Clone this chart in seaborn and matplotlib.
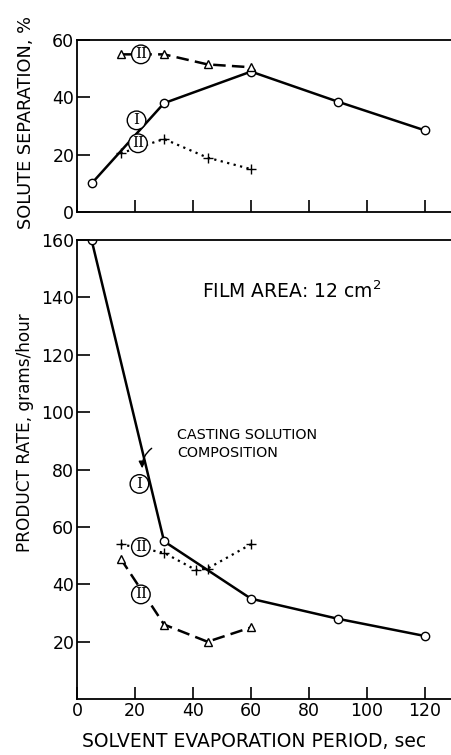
# Membrane casting: solute separation and product rate vs solvent evaporation period

import matplotlib.pyplot as plt
import seaborn as sns
import pandas as pd

# top panel - solute separation, %
sep_I_x = [5, 30, 60, 90, 120]
sep_I_y = [10, 38, 49, 38.5, 28.5]
sep_tri_x = [15, 30, 45, 60]
sep_tri_y = [55, 55, 51.5, 50.5]
sep_plus_x = [15, 30, 45, 60]
sep_plus_y = [20.5, 25.5, 19, 15]

# bottom panel - product rate, grams/hour
rate_I_x = [5, 30, 60, 90, 120]
rate_I_y = [160, 55, 35, 28, 22]
rate_tri_x = [15, 30, 45, 60]
rate_tri_y = [49, 26, 20, 25]
rate_plus_x = [15, 30, 41, 45, 60]
rate_plus_y = [54, 51, 45, 45.5, 54]

x_ticks = [0, 20, 40, 60, 80, 100, 120]
sep_ticks = [0, 20, 40, 60]
rate_ticks = [20, 40, 60, 80, 100, 120, 140, 160]


def series(ax, x, y, ls, marker, ms, lw=1.8):
    df = pd.DataFrame({'x': x, 'y': y})
    sns.lineplot(data=df, x='x', y='y', ax=ax, color='black', linestyle=ls,
                 linewidth=lw, marker=marker, markersize=ms,
                 markerfacecolor='white', markeredgecolor='black',
                 markeredgewidth=1.0, sort=False, errorbar=None)


def tag(ax, x, y, s):
    ax.text(x, y, s, ha='center', va='center', fontsize=11, family='DejaVu Serif',
            bbox=dict(boxstyle='circle,pad=0.15', fc='white', ec='black', lw=1.0),
            zorder=5)


def style_axes(ax):
    ax.tick_params(direction='in', length=9, width=1.2, labelsize=12.5, pad=2)
    ax.spines['right'].set_visible(False)
    for s in ['left', 'bottom', 'top']:
        ax.spines[s].set_linewidth(1.3)
    ax.set_xlim(0, 129)
    ax.set_xticks(x_ticks)


sns.set_style('ticks')
plt.rcParams['font.family'] = ['DejaVu Sans']
plt.rcParams.update({'text.color': 'black', 'axes.labelcolor': 'black',
                     'xtick.color': 'black', 'ytick.color': 'black',
                     'axes.edgecolor': 'black'})

fig = plt.figure(figsize=(4.51, 7.55), dpi=100)
ax1 = fig.add_axes([0.171, 0.719, 0.829, 0.228])
ax2 = fig.add_axes([0.171, 0.074, 0.829, 0.608])

# top panel
series(ax1, sep_I_x, sep_I_y, '-', 'o', 6)
series(ax1, sep_tri_x, sep_tri_y, (0, (5, 2.5)), '^', 6)
series(ax1, sep_plus_x, sep_plus_y, (0, (1, 2)), '+', 7, lw=1.6)
tag(ax1, 20.5, 32, 'I')
tag(ax1, 22, 55, 'II')
tag(ax1, 21, 24, 'II')
style_axes(ax1)
ax1.set_ylim(0, 60)
ax1.set_yticks(sep_ticks)
ax1.set_xticklabels([])
ax1.set_xlabel('')
ax1.set_ylabel('SOLUTE SEPARATION, %', fontsize=12.8)
ax1.yaxis.set_label_coords(-0.112, 0.52)

# bottom panel
series(ax2, rate_I_x, rate_I_y, '-', 'o', 6)
series(ax2, rate_tri_x, rate_tri_y, (0, (5, 2.5)), '^', 6)
series(ax2, rate_plus_x, rate_plus_y, (0, (1, 2)), '+', 7, lw=1.6)
tag(ax2, 21.5, 75, 'I')
tag(ax2, 22, 53, 'II')
tag(ax2, 22, 36.5, 'II')
ax2.text(74, 142, 'FILM AREA: 12 cm$^2$', ha='center', va='center', fontsize=13.5)
ax2.text(34.5, 89, 'CASTING SOLUTION\nCOMPOSITION', ha='left', va='center',
         fontsize=10.3, linespacing=1.4)
ax2.annotate('', xy=(22.5, 79.5), xytext=(26.5, 88),
             arrowprops=dict(arrowstyle='-|>', color='black', lw=1.0,
                             connectionstyle='arc3,rad=0.3'))
style_axes(ax2)
ax2.set_ylim(0, 160)
ax2.set_yticks(rate_ticks)
ax2.set_xlabel('SOLVENT EVAPORATION PERIOD, sec', fontsize=13.5)
ax2.xaxis.set_label_coords(0.473, -0.072)
ax2.set_ylabel('PRODUCT RATE, grams/hour', fontsize=12.2)
ax2.yaxis.set_label_coords(-0.115, 0.58)

fig.savefig('out.png', dpi=100)
